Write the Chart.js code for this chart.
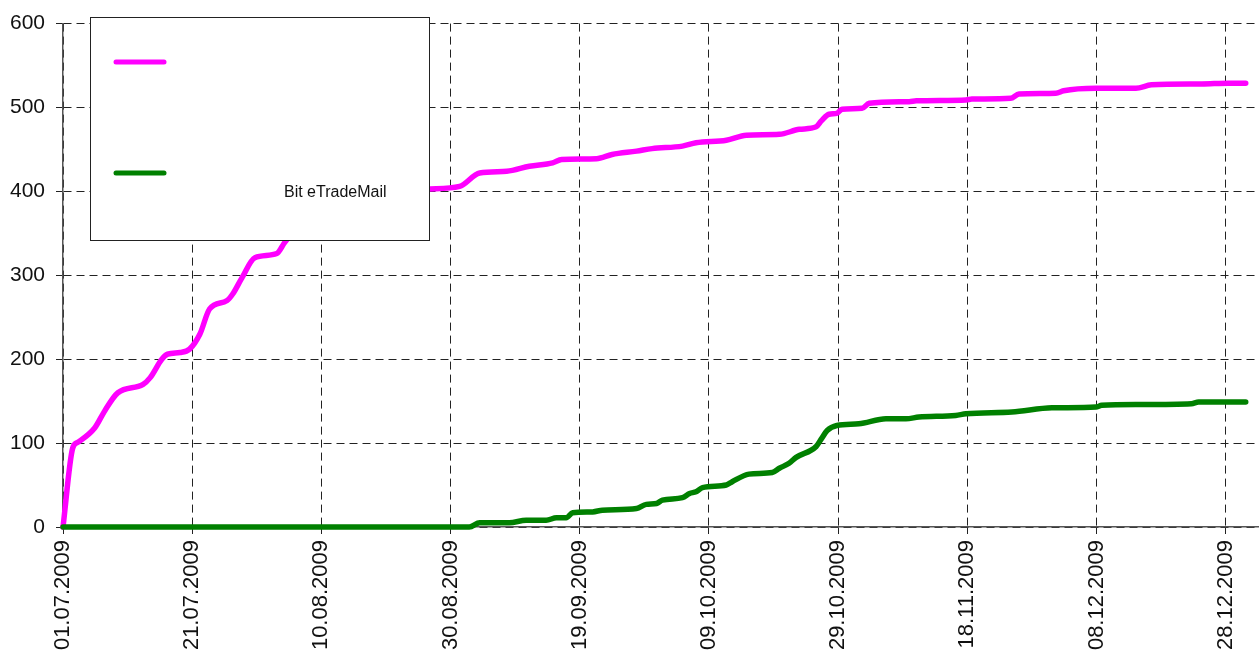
<!DOCTYPE html>
<html>
<head>
<meta charset="utf-8">
<script src="https://cdn.jsdelivr.net/npm/chart.js@4/dist/chart.umd.min.js"></script>
<style>
  html, body { margin: 0; padding: 0; background: #fff; }
  #wrap { width: 1260px; height: 658px; }
</style>
</head>
<body>
<div id="wrap"><canvas id="mailChart" width="1260" height="658"></canvas></div>
<script>
// days counted from 01.07.2009
const startDate = Date.UTC(2009, 6, 1);

const series1Days = [0, 1.5, 2.3, 4.9, 6.5, 8.5, 12.4, 13.5, 15.3, 16.2, 18.1, 19.6, 21.2, 22.7, 25.4, 26.3, 27.7, 29.7, 33.1, 34.3,
    36.6, 39.7, 44.4, 49, 53.7, 56.8, 61.4, 64.5, 68.7, 72.2, 75.8, 77.2, 82.6, 85.0, 88.8, 91.2, 95.9, 98.0, 102.7, 105.8,
    110.9, 114.0, 116.6, 117.4, 118.6, 119.8, 120.6, 123.7, 124.8, 131.0, 132.1, 139.8, 140.7, 146.7, 148.0, 153.7, 154.9,
    159.9, 166.1, 168.5, 176.3, 180.4, 183.1];
const series1Values = [0, 94, 101, 118, 139, 160, 170, 178, 200, 206, 208, 212, 230, 260, 270, 278, 297, 321, 326, 339,
    360, 378, 390, 398, 402, 403, 406, 422, 424, 430, 434, 438, 439, 444, 448, 451, 454, 458, 461, 467,
    468, 474, 477, 484, 492, 493, 498, 499, 505, 507, 508, 509, 510, 511, 516, 517, 520,
    523, 523, 527, 528, 529, 529];

const series2Days = [0, 62.9, 64.5, 69.1, 71.7, 74.8, 76.4, 77.9, 78.9, 82.0, 83.5, 88.8, 90.3, 91.9, 92.8, 95.9, 97.0, 98.0,
    99.0, 102.7, 103.6, 106.2, 109.8, 110.9, 112.4, 113.5, 116.6, 117.4, 118.3, 119.8, 123.2, 127.4, 130.5, 132.5,
    138.2, 139.8, 146.9, 153.1, 159.9, 160.8, 166.5, 174.7, 175.8, 183.1];
const series2Values = [0, 0, 5, 5, 8, 8, 11, 11, 17, 18, 20, 22, 27, 28, 32, 35, 40, 42,
    47, 50, 54, 63, 65, 70, 76, 83, 96, 105, 115, 121, 123, 129, 129, 131,
    133, 135, 137, 142, 143, 145, 146, 147, 149, 149];

const legendLabels = ['', 'Bit eTradeMail'];
const yTicksMax = 600;
const xDaysMax = 185;

function toPoints(days, values) {
    return days.map((d, i) => ({ x: d, y: values[i] }));
}

function dayLabel(d) {
    const dt = new Date(startDate + d * 86400000);
    const dd = String(dt.getUTCDate()).padStart(2, '0');
    const mm = String(dt.getUTCMonth() + 1).padStart(2, '0');
    return dd + '.' + mm + '.' + dt.getUTCFullYear();
}

// legend drawn as a box over the plot, like the original
const boxLegend = {
    id: 'boxLegend',
    afterDatasetsDraw(chart) {
        const ctx = chart.ctx;
        ctx.save();
        ctx.fillStyle = '#fff';
        ctx.fillRect(90, 17, 339, 223);
        ctx.strokeStyle = '#222';
        ctx.lineWidth = 1;
        ctx.strokeRect(90.5, 17.5, 339, 223);
        const rows = [62, 173];
        chart.data.datasets.forEach((ds, i) => {
            ctx.strokeStyle = ds.borderColor;
            ctx.lineWidth = 5;
            ctx.lineCap = 'round';
            ctx.beginPath();
            ctx.moveTo(116, rows[i]);
            ctx.lineTo(164, rows[i]);
            ctx.stroke();
        });
        ctx.fillStyle = '#111';
        ctx.font = '16px "Liberation Sans", Arial, sans-serif';
        ctx.textBaseline = 'middle';
        ctx.fillText(legendLabels[0], 284, 83);
        ctx.fillText(legendLabels[1], 284, 193);
        ctx.restore();
    }
};

const ctx = document.getElementById('mailChart');
new Chart(ctx, {
    type: 'line',
    data: {
        datasets: [{
            label: legendLabels[0],
            data: toPoints(series1Days, series1Values),
            borderColor: '#ff00ff',
            order: 1,
            clip: 6,
        }, {
            label: legendLabels[1],
            data: toPoints(series2Days, series2Values),
            borderColor: '#008000',
            order: 0,
            clip: 6,
        }],
    },
    options: {
        responsive: false,
        animation: false,
        devicePixelRatio: 1,
        layout: { padding: { top: 22, right: 2, left: 0, bottom: 0 } },
        elements: {
            point: { radius: 0 },
            line: {
                borderWidth: 5.5,
                cubicInterpolationMode: 'monotone',
                borderCapStyle: 'round',
                borderJoinStyle: 'round',
                fill: false,
            },
        },
        plugins: {
            legend: { display: false },
            tooltip: { enabled: false },
        },
        scales: {
            x: {
                type: 'linear',
                min: 0,
                max: xDaysMax,
                afterFit: s => { s.height = 131; },
                ticks: {
                    stepSize: 20,
                    includeBounds: false,
                    minRotation: 90,
                    maxRotation: 90,
                    padding: 6,
                    color: '#111',
                    font: { family: '"Liberation Sans", Arial, sans-serif', size: 22 },
                    callback: v => dayLabel(v),
                },
                grid: {
                    color: '#222',
                    lineWidth: 1,
                    tickBorderDash: [],
                    tickLength: 7,
                    drawTicks: true,
                },
                border: { display: true, color: '#555', width: 1.5, dash: [8, 5] },
            },
            y: {
                min: 0,
                max: yTicksMax,
                afterFit: s => { s.width = 63; },
                ticks: {
                    stepSize: 100,
                    padding: 11,
                    color: '#111',
                    font: { family: '"Liberation Sans", Arial, sans-serif', size: 21 },
                },
                grid: {
                    color: '#222',
                    lineWidth: 1,
                    tickBorderDash: [],
                    tickLength: 7,
                },
                border: { display: true, color: '#555', width: 1.5, dash: [8, 5] },
            },
        },
    },
    plugins: [boxLegend],
});
</script>
</body>
</html>
